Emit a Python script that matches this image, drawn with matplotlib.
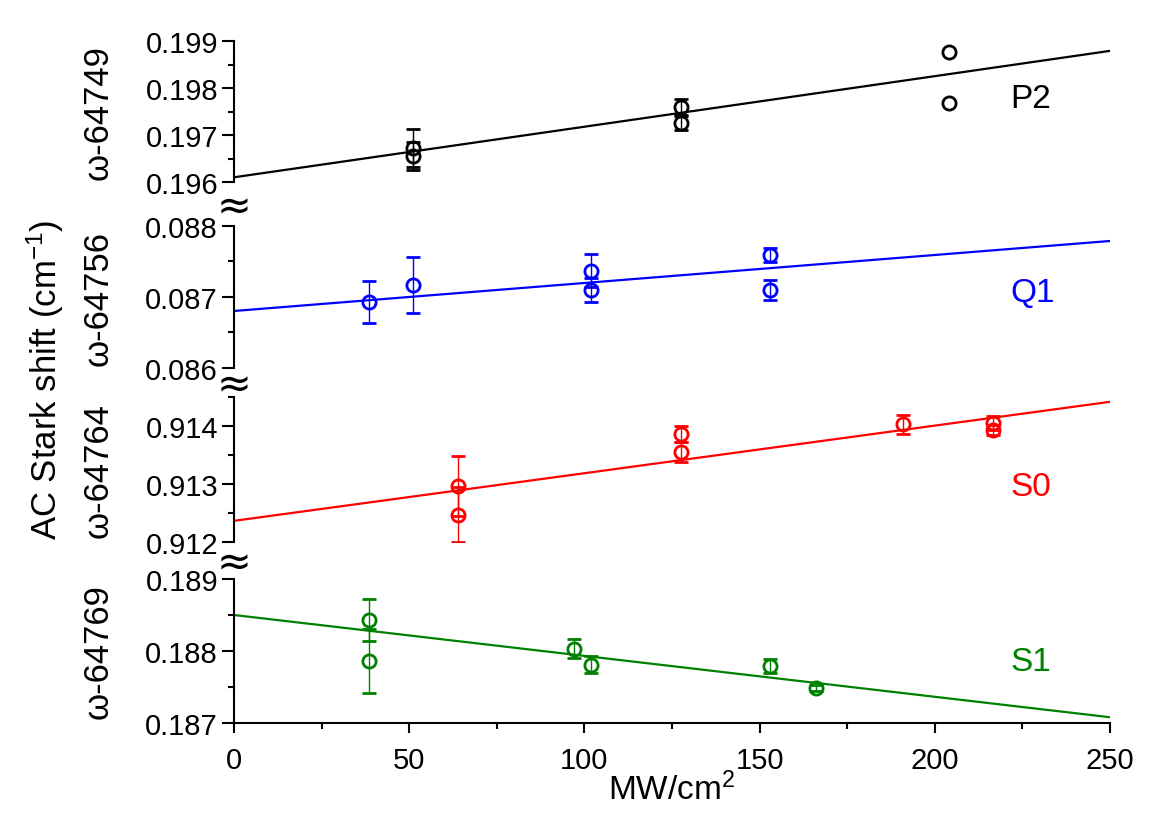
import numpy as np
import matplotlib
matplotlib.use("Agg")
import matplotlib.pyplot as plt
from matplotlib.ticker import MultipleLocator, FormatStrFormatter

plt.rcParams['font.family'] = ['Liberation Sans', 'DejaVu Sans']
plt.rcParams['mathtext.default'] = 'regular'

# intensity (MW/cm^2), shift values and error bars
p2_x = [51, 51, 127.5, 127.5, 204, 204]
p2_y = [0.19672, 0.19655, 0.19760, 0.19726, 0.19877, 0.19768]
p2_err = [0.00040, 0.00030, 0.00017, 0.00015, np.nan, np.nan]
p2_fit = [0.19610, 0.19879]   # fit line value at x=0 and x=250

q1_x = [38.5, 51, 102, 102, 153, 153]
q1_y = [0.08693, 0.08717, 0.08737, 0.08710, 0.08759, 0.08710]
q1_err = [0.00029, 0.00039, 0.00023, 0.00017, 0.00010, 0.00014]
q1_fit = [0.086803, 0.087789]

s0_x = [64, 64, 127.5, 127.5, 191, 216.5, 216.5]
s0_y = [0.91296, 0.91247, 0.91386, 0.91355, 0.91403, 0.91405, 0.91393]
s0_err = [0.00052, 0.00047, 0.00014, 0.00017, 0.00016, 0.00012, 0.00008]
s0_fit = [0.912365, 0.914417]

s1_x = [38.5, 38.5, 97, 102, 153, 166]
s1_y = [0.18843, 0.18786, 0.18803, 0.18781, 0.18779, 0.18749]
s1_err = [0.00029, 0.00044, 0.00013, 0.00012, 0.00010, 0.00004]
s1_fit = [0.18850, 0.18708]

fit_x = [0, 250]

panels = [
    # x, y, err, fit, colour, name, offset label, ylim, label y (axes frac)
    (p2_x, p2_y, p2_err, p2_fit, 'black', 'P2', 'ω-64749', (0.196, 0.199), 0.589),
    (q1_x, q1_y, q1_err, q1_fit, 'blue', 'Q1', 'ω-64756', (0.086, 0.088), 0.535),
    (s0_x, s0_y, s0_err, s0_fit, 'red', 'S0', 'ω-64764', (0.912, 0.9145), 0.386),
    (s1_x, s1_y, s1_err, s1_fit, 'green', 'S1', 'ω-64769', (0.187, 0.189), 0.424),
]
# axes rectangles in pixels (top, bottom)
rows = [(42, 183), (227, 369), (398, 543), (580, 724)]

W, H = 1170, 828
fig = plt.figure(figsize=(W / 100, H / 100), dpi=100)
left = 234 / W
width = (1110 - 234) / W

for i, (px, py, perr, pfit, col, name, ylab, ylim, ty) in enumerate(panels):
    top, bot = rows[i]
    ax = fig.add_axes([left, 1 - bot / H, width, (bot - top) / H])
    ax.plot(fit_x, pfit, color=col, lw=1.6, zorder=2)
    ax.errorbar(px, py, yerr=perr, fmt='o', mfc='none', mec=col, mew=2.0,
                ms=9.5, ecolor=col, elinewidth=1.0, capsize=5, capthick=1.0,
                zorder=3)
    ax.set_xlim(0, 250)
    ax.set_ylim(*ylim)
    ax.yaxis.set_major_locator(MultipleLocator(0.001))
    ax.yaxis.set_minor_locator(MultipleLocator(0.0005))
    ax.yaxis.set_major_formatter(FormatStrFormatter('%.3f'))
    ax.tick_params(axis='y', which='major', length=8.5, width=1.5, labelsize=21, pad=3)
    ax.tick_params(axis='y', which='minor', length=4.5, width=1.5)
    for s in ['top', 'right']:
        ax.spines[s].set_visible(False)
    ax.spines['left'].set_linewidth(1.5)
    ax.set_ylabel(ylab, fontsize=25)
    ax.yaxis.set_label_coords(-0.136, 0.5)
    ax.text(0.886, ty, name, transform=ax.transAxes, color=col, fontsize=24,
            va='center', ha='left')
    ax.patch.set_alpha(0)
    if i < 3:
        ax.spines['bottom'].set_visible(False)
        ax.tick_params(axis='x', which='both', bottom=False, labelbottom=False)
    else:
        ax.spines['bottom'].set_linewidth(1.5)
        ax.xaxis.set_major_locator(MultipleLocator(50))
        ax.xaxis.set_minor_locator(MultipleLocator(25))
        ax.tick_params(axis='x', which='major', length=7, width=1.5, labelsize=21, pad=9.5)
        ax.tick_params(axis='x', which='minor', length=4, width=1.5)
        ax.set_xlabel('MW/cm$^2$', fontsize=24, labelpad=-2)

# axis break marks between panels
for yb in [207, 385, 563]:
    fig.text(left, 1 - yb / H, '≈', fontsize=30, family='DejaVu Sans',
             ha='center', va='center')

fig.text(45 / W, 1 - 380 / H, 'AC Stark shift (cm$^{-1}$)', fontsize=25,
         rotation=90, ha='center', va='center')

fig.savefig('out.png', dpi=100)
